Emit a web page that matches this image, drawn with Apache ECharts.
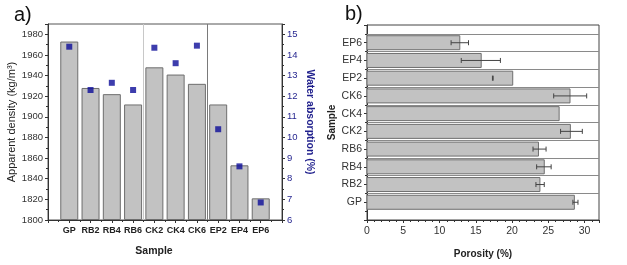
<!DOCTYPE html>
<html>
<head>
<meta charset="utf-8">
<script src="https://cdn.jsdelivr.net/npm/echarts@6/dist/echarts.min.js"></script>
<style>
  html, body { margin: 0; padding: 0; background: #fff; }
  #chart { width: 627px; height: 265px; }
</style>
</head>
<body>
<div id="chart"></div>
<script>
  // samples, left to right in a) and bottom to top in b)
  const samples = ['GP', 'RB2', 'RB4', 'RB6', 'CK2', 'CK4', 'CK6', 'EP2', 'EP4', 'EP6'];
  const density = [1973, 1928, 1922, 1912, 1948, 1941, 1932, 1912, 1853, 1821];
  const absorption = [14.4, 12.3, 12.65, 12.3, 14.35, 13.6, 14.45, 10.4, 8.6, 6.85];
  const porosity = [28.6, 23.85, 24.45, 23.65, 28.05, 26.5, 28.0, 20.1, 15.75, 12.8];
  const porosityLow = [28.4, 23.3, 23.4, 22.9, 26.7, null, 25.75, 17.3, 13.0, 11.6];
  const porosityHigh = [29.1, 24.45, 25.4, 24.7, 29.7, null, 30.3, 17.4, 18.4, 14.0];
  const groupBreaks = [4.5, 7.5];

  const font = 'Liberation Sans, Arial, sans-serif';
  const navy = '#1f1f8c';
  let myChart = echarts.init(document.getElementById('chart'), null, {renderer: 'canvas'});

  let pos = samples.map(function (s, i) { return i + 1; });
  let label = function (v) {
    return (v >= 1 && v <= samples.length && v === Math.round(v)) ? samples[v - 1] : '';
  };
  let plain = function (v) { return String(v); };

  let densityData = [];
  let absorptionData = [];
  let porosityData = [];
  let errData = [];
  for (let i = 0; i < samples.length; i++) {
    densityData.push([pos[i], density[i]]);
    absorptionData.push([pos[i], absorption[i]]);
    porosityData.push([porosity[i], pos[i]]);
    if (porosityLow[i] !== null) {
      errData.push([pos[i], porosityLow[i], porosityHigh[i]]);
    }
  }
  let rowLines = [];
  for (let i = 1; i <= samples.length; i++) {
    rowLines.push({yAxis: i + 0.5});
  }

  let axisLine = {lineStyle: {color: '#333', width: 1}};
  let tick = {length: 3, lineStyle: {color: '#333'}};

  myChart.setOption({
    animation: false,
    textStyle: {fontFamily: font},
    graphic: [
      {type: 'text', left: 14, top: 5, style: {text: 'a)', font: '20px ' + font, fill: '#111'}},
      {type: 'text', left: 345, top: 4, style: {text: 'b)', font: '20px ' + font, fill: '#111'}}
    ],
    grid: [
      {left: 48, right: 345, top: 24, bottom: 45, show: true, borderColor: '#555', borderWidth: 1},
      {left: 367, right: 28, top: 25, bottom: 45, show: true, borderColor: '#444', borderWidth: 1}
    ],
    xAxis: [
      {
        gridIndex: 0,
        type: 'value',
        min: 0,
        max: 11,
        interval: 1,
        name: 'Sample',
        nameLocation: 'middle',
        nameGap: 26,
        nameTextStyle: {fontWeight: 'bold', fontSize: 10.5, color: '#222', padding: [0, 22, 0, 0]},
        axisLine: axisLine,
        axisTick: tick,
        minorTick: {show: true, splitNumber: 2, length: 2, lineStyle: {color: '#333'}},
        axisLabel: {formatter: label, fontWeight: 'bold', fontSize: 9, color: '#222', margin: 6},
        splitLine: {show: false}
      },
      {
        gridIndex: 1,
        type: 'value',
        min: 0,
        max: 32,
        interval: 5,
        name: 'Porosity (%)',
        nameLocation: 'middle',
        nameGap: 29,
        nameTextStyle: {fontWeight: 'bold', fontSize: 10, color: '#222'},
        axisLine: axisLine,
        axisTick: tick,
        minorTick: {show: true, splitNumber: 5, length: 2, lineStyle: {color: '#333'}},
        axisLabel: {fontSize: 10.5, color: '#333', margin: 6, showMaxLabel: false},
        splitLine: {show: false}
      }
    ],
    yAxis: [
      {
        gridIndex: 0,
        type: 'value',
        min: 1800,
        max: 1990,
        interval: 20,
        startValue: 1800,
        name: 'Apparent density (kg/m³)',
        nameLocation: 'middle',
        nameGap: 28,
        nameTextStyle: {fontSize: 11, color: '#222'},
        axisLine: {show: true, lineStyle: {color: '#333'}},
        axisTick: tick,
        minorTick: {show: true, splitNumber: 2, length: 2, lineStyle: {color: '#333'}},
        axisLabel: {formatter: plain, fontSize: 9.5, color: '#333', margin: 5, showMaxLabel: false},
        splitLine: {show: false}
      },
      {
        gridIndex: 0,
        type: 'value',
        position: 'right',
        min: 6,
        max: 15.5,
        interval: 1,
        name: 'Water absorption (%)',
        nameLocation: 'middle',
        nameGap: 22,
        nameRotate: -90,
        nameTextStyle: {fontWeight: 'bold', fontSize: 10.5, color: navy},
        axisLine: {show: true, lineStyle: {color: '#333'}},
        axisTick: tick,
        minorTick: {show: true, splitNumber: 2, length: 2, lineStyle: {color: '#333'}},
        axisLabel: {formatter: plain, fontSize: 9.5, color: navy, margin: 5, showMaxLabel: false},
        splitLine: {show: false}
      },
      {
        gridIndex: 1,
        type: 'value',
        min: 0,
        max: 11,
        interval: 1,
        name: 'Sample',
        nameLocation: 'middle',
        nameGap: 24,
        nameTextStyle: {fontWeight: 'bold', fontSize: 10, color: '#222'},
        axisLine: axisLine,
        axisTick: tick,
        minorTick: {show: true, splitNumber: 2, length: 2, lineStyle: {color: '#333'}},
        axisLabel: {formatter: label, fontSize: 10.5, color: '#333', margin: 5},
        splitLine: {show: false}
      }
    ],
    series: [
      {
        type: 'bar',
        xAxisIndex: 0,
        yAxisIndex: 0,
        data: densityData,
        barWidth: 18,
        clip: true,
        itemStyle: {color: '#c2c2c2', borderColor: '#6e6e6e', borderWidth: 1},
        markLine: {
          silent: true,
          symbol: 'none',
          label: {show: false},
          data: [
            {xAxis: groupBreaks[0], lineStyle: {color: '#c8c8c8', width: 1, type: 'solid'}},
            {xAxis: groupBreaks[1], lineStyle: {color: '#7a7a7a', width: 1, type: 'solid'}}
          ]
        }
      },
      {
        type: 'scatter',
        xAxisIndex: 0,
        yAxisIndex: 1,
        data: absorptionData,
        symbol: 'rect',
        symbolSize: 6,
        itemStyle: {color: '#0c0c98'},
        z: 5
      },
      {
        // horizontal bars: both axes are value axes, so drawn as custom rects
        type: 'custom',
        xAxisIndex: 1,
        yAxisIndex: 2,
        data: porosityData,
        z: 3,
        renderItem: function (params, api) {
          let y = api.value(1);
          let start = api.coord([0, y]);
          let end = api.coord([api.value(0), y]);
          let h = 14;
          return {
            type: 'rect',
            shape: {x: start[0], y: start[1] - h / 2, width: end[0] - start[0], height: h},
            style: {fill: '#c2c2c2', stroke: '#6e6e6e', lineWidth: 1}
          };
        }
      },
      {
        type: 'line',
        xAxisIndex: 1,
        yAxisIndex: 2,
        data: [],
        markLine: {
          silent: true,
          symbol: 'none',
          label: {show: false},
          lineStyle: {color: '#8a8a8a', width: 1, type: 'solid'},
          data: rowLines
        },
        z: 2
      },
      {
        type: 'custom',
        xAxisIndex: 1,
        yAxisIndex: 2,
        data: errData,
        z: 6,
        renderItem: function (params, api) {
          let y = api.value(0);
          let a = api.coord([api.value(1), y]);
          let b = api.coord([api.value(2), y]);
          let h = 2.5;
          let style = {stroke: '#444', lineWidth: 1};
          return {
            type: 'group',
            children: [
              {type: 'line', shape: {x1: a[0], y1: a[1], x2: b[0], y2: b[1]}, style: style},
              {type: 'line', shape: {x1: a[0], y1: a[1] - h, x2: a[0], y2: a[1] + h}, style: style},
              {type: 'line', shape: {x1: b[0], y1: b[1] - h, x2: b[0], y2: b[1] + h}, style: style}
            ]
          };
        }
      }
    ]
  });
</script>
</body>
</html>
